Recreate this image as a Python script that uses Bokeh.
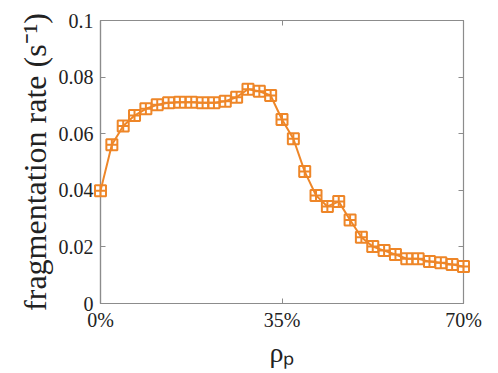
from bokeh.plotting import figure
from bokeh.models import Range1d, FixedTicker, CustomJSTickFormatter, LinearAxis
from bokeh.embed import file_html
from bokeh.resources import INLINE

# data (x in percent)
rho_p = [0, 2.19, 4.38, 6.56, 8.75, 10.94, 13.13, 15.31, 17.5, 19.69, 21.88,
         24.06, 26.25, 28.44, 30.63, 32.81, 35, 37.19, 39.38, 41.56, 43.75,
         45.94, 48.13, 50.31, 52.5, 54.69, 56.88, 59.06, 61.25, 63.44, 65.63,
         67.81, 70]
frag_rate = [0.0398, 0.0561, 0.0627, 0.0664, 0.0688, 0.0702, 0.0709, 0.0711,
             0.0711, 0.0709, 0.0709, 0.0715, 0.0729, 0.0757, 0.0750, 0.0735,
             0.0650, 0.0582, 0.0466, 0.0382, 0.0343, 0.0360, 0.0295, 0.0234,
             0.0201, 0.0187, 0.0173, 0.0158, 0.0158, 0.0148, 0.0144, 0.0138,
             0.0131]
x_ticks = [0, 35, 70]
x_tick_labels = {0: "0%", 35: "35%", 70: "70%"}
y_ticks = [0, 0.02, 0.04, 0.06, 0.08, 0.1]

ORANGE = "#ee8628"
AXC = "#8c8c8c"
FONT = "Liberation Serif"

p = figure(width=490, height=370, output_backend="svg", toolbar_location=None,
           x_range=Range1d(0, 70), y_range=Range1d(0, 0.1),
           min_border_left=100, min_border_right=27, min_border_top=20,
           min_border_bottom=67, x_axis_location="below")
p.grid.visible = False
p.outline_line_color = AXC
p.outline_line_width = 1.2
p.background_fill_color = "white"
p.border_fill_color = "white"

p.line(rho_p, frag_rate, line_color=ORANGE, line_width=2, level="overlay")
p.scatter(rho_p, frag_rate, marker="square_cross", size=11, line_color=ORANGE,
          fill_color="white", fill_alpha=0.0, line_width=2, level="overlay")

xa = p.xaxis[0]
xa.ticker = FixedTicker(ticks=x_ticks)
xa.major_label_overrides = x_tick_labels
ya = p.yaxis[0]
ya.ticker = FixedTicker(ticks=y_ticks)
ya.formatter = CustomJSTickFormatter(code="return tick === 0 ? '0' : String(+tick.toFixed(2));")

for ax in (xa, ya):
    ax.axis_line_color = AXC
    ax.axis_line_width = 1.2
    ax.major_tick_line_color = AXC
    ax.major_tick_in = 5
    ax.major_tick_out = 0
    ax.minor_tick_line_color = None
    ax.major_label_text_font = FONT
    ax.major_label_text_font_size = "20px"
    ax.major_label_text_color = "#222222"
    ax.axis_label_text_font = FONT
    ax.axis_label_text_font_style = "normal"
    ax.axis_label_text_color = "#222222"

ya.axis_label = "fragmentation rate (s\u207b\u00b9)"
ya.axis_label_text_font_size = "32px"
ya.major_label_standoff = 7
ya.axis_label_standoff = 3
xa.axis_label = "\u03c1\u209a"
xa.axis_label_text_font_size = "28px"
xa.major_label_standoff = 5
xa.axis_label_standoff = 3

# mirrored tick marks on top and right (no labels)
blank = CustomJSTickFormatter(code="return '';")
top = LinearAxis(ticker=FixedTicker(ticks=x_ticks), formatter=blank,
                 axis_line_color=AXC, major_tick_line_color=AXC, major_tick_in=5,
                 major_tick_out=0, minor_tick_line_color=None, major_label_standoff=0)
right = LinearAxis(ticker=FixedTicker(ticks=y_ticks), formatter=blank,
                   axis_line_color=AXC, major_tick_line_color=AXC, major_tick_in=5,
                   major_tick_out=0, minor_tick_line_color=None, major_label_standoff=0)
p.add_layout(top, "above")
p.add_layout(right, "right")

open("out.html", "w").write(file_html(p, INLINE))
